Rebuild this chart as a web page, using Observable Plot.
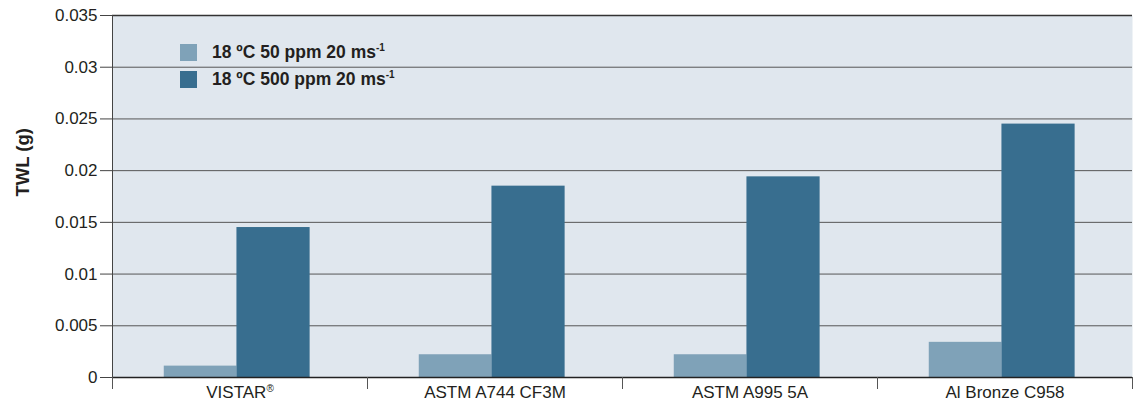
<!DOCTYPE html>
<html>
<head>
<meta charset="utf-8">
<script src="https://cdn.jsdelivr.net/npm/d3@7"></script>
<script src="https://cdn.jsdelivr.net/npm/@observablehq/plot@0.6"></script>
<style>
  html, body { margin: 0; padding: 0; background: #fff; }
  #wrap { position: relative; width: 1140px; height: 406px; font-family: "Liberation Sans", Arial, sans-serif; }
  #legend { position: absolute; left: 180px; top: 44px; font-weight: bold; font-size: 17.5px; color: #231f20; }
  .row { display: flex; align-items: center; height: 17px; margin-bottom: 10px; }
  .sw { width: 17px; height: 17px; margin-right: 15px; }
  sup { font-size: 10px; vertical-align: 7px; line-height: 0; }
</style>
</head>
<body>
<div id="wrap"></div>
<script>
const categories = ["VISTAR®", "ASTM A744 CF3M", "ASTM A995 5A", "Al Bronze C958"];
const series = ["18 ºC 50 ppm 20 ms-1", "18 ºC 500 ppm 20 ms-1"];
const values50 = [0.0011, 0.0022, 0.0022, 0.0034];
const values500 = [0.0145, 0.0185, 0.0194, 0.0245];
const yTicks = [0, 0.005, 0.01, 0.015, 0.02, 0.025, 0.03, 0.035];
const colors = ["#7fa2b8", "#386e8f"];

const data = [];
categories.forEach((c, i) => {
  data.push({i, s: 0, v: values50[i]});
  data.push({i, s: 1, v: values500[i]});
});
const off = [[0.203, 0.488], [0.488, 0.775]];

const plot = Plot.plot({
  width: 1140,
  height: 406,
  marginLeft: 112,
  marginRight: 8,
  marginTop: 15,
  marginBottom: 29,
  style: { fontFamily: '"Liberation Sans", Arial, sans-serif', color: "#231f20", background: "transparent" },
  x: { type: "linear", domain: [0, categories.length], axis: null },
  y: { domain: [0, 0.035], axis: null },
  marks: [
    Plot.frame({ fill: "#e0e7ee", stroke: null }),
    Plot.ruleY(yTicks.slice(1, -1), { stroke: "#555", strokeWidth: 1 }),
    Plot.ruleY([0.035], { stroke: "#333", strokeWidth: 1.3 }),
    Plot.rect(data, {
      x1: d => d.i + off[d.s][0],
      x2: d => d.i + off[d.s][1],
      y1: 0,
      y2: "v",
      fill: d => colors[d.s]
    }),
    Plot.ruleY([0], { stroke: "#222", strokeWidth: 1.3 }),
    Plot.ruleX([0], { stroke: "#444", strokeWidth: 1 }),
    Plot.axisY({
      ticks: yTicks, tickSize: 12, tickPadding: 3, fontSize: 17,
      tickFormat: d => String(+d.toFixed(3)), label: null, stroke: "#444"
    }),
    Plot.axisX({
      ticks: d3.range(categories.length + 1), tickSize: 12, tickFormat: () => "", label: null, stroke: "#555"
    }),
    Plot.axisX({
      ticks: categories.map((c, i) => i + 0.5), tickSize: 0, tickPadding: 8, fontSize: 17,
      tickFormat: d => categories[Math.floor(d)], label: null
    }),
    Plot.text(["TWL (g)"], {
      frameAnchor: "left", dx: -89, rotate: -90, fontWeight: "bold", fontSize: 18.5, fill: "#231f20"
    })
  ]
});

const wrap = document.getElementById("wrap");
wrap.appendChild(plot);

// superscript the registered mark
plot.querySelectorAll("text").forEach(t => {
  if (t.textContent === "VISTAR®") {
    t.textContent = "VISTAR";
    const ts = document.createElementNS("http://www.w3.org/2000/svg", "tspan");
    ts.setAttribute("font-size", "10");
    ts.setAttribute("dy", "-6");
    ts.textContent = "®";
    t.appendChild(ts);
  }
});

const legend = document.createElement("div");
legend.id = "legend";
series.forEach((s, k) => {
  const row = document.createElement("div");
  row.className = "row";
  const sw = document.createElement("div");
  sw.className = "sw";
  sw.style.background = colors[k];
  const lab = document.createElement("span");
  const m = s.match(/^(.*ms)(-1)$/);
  lab.innerHTML = m ? `${m[1]}<sup>${m[2]}</sup>` : s;
  row.appendChild(sw);
  row.appendChild(lab);
  legend.appendChild(row);
});
wrap.appendChild(legend);
</script>
</body>
</html>
